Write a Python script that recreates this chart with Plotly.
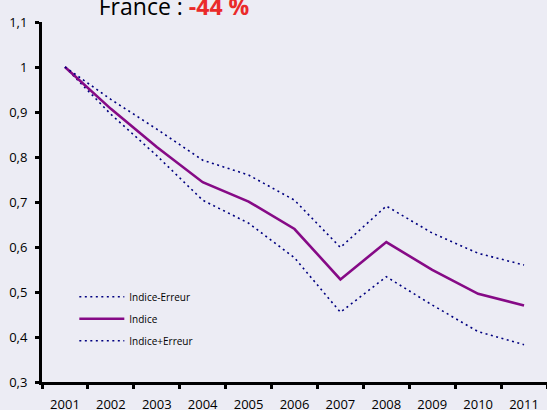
import plotly.graph_objects as go

years = ["2001", "2002", "2003", "2004", "2005", "2006", "2007", "2008", "2009", "2010", "2011"]
indice = [1.0, 0.907, 0.822, 0.744, 0.701, 0.640, 0.528, 0.611, 0.549, 0.496, 0.470]
indice_plus = [1.0, 0.928, 0.862, 0.793, 0.760, 0.704, 0.599, 0.691, 0.631, 0.586, 0.560]
indice_moins = [1.0, 0.895, 0.803, 0.704, 0.653, 0.576, 0.455, 0.534, 0.471, 0.412, 0.383]

navy = "#000080"
purple = "#860A86"
bg = "#ECECF4"
font_family = "Open Sans, Liberation Sans, sans-serif"

fig = go.Figure()
fig.add_trace(go.Scatter(x=years, y=indice_moins, mode="lines", name="Indice-Erreur",
                         legendgroup="a",
                         line=dict(color=navy, width=1.6, dash="2px,3.5px")))
fig.add_trace(go.Scatter(x=years, y=indice, mode="lines", name="Indice",
                         legendgroup="b",
                         line=dict(color=purple, width=2.6)))
fig.add_trace(go.Scatter(x=years, y=indice_plus, mode="lines", name="Indice+Erreur",
                         legendgroup="c",
                         line=dict(color=navy, width=1.6, dash="2px,3.5px")))

fig.update_layout(
    width=547, height=410,
    margin=dict(l=42, r=0, t=22, b=28, autoexpand=False),
    paper_bgcolor=bg, plot_bgcolor=bg,
    separators=", ",
    font=dict(family=font_family, color="#000000", size=13),
    title=dict(
        text="France : <b><span style='color:#EA2A2A'>-44 %</span></b>",
        x=174 / 547, xanchor="center", xref="container",
        y=1 - 7 / 410, yanchor="middle", yref="container",
        font=dict(size=23, family=font_family, color="#000000"),
    ),
    showlegend=True,
    legend=dict(
        x=0.064, y=0.277, xanchor="left", yanchor="top",
        bgcolor="rgba(0,0,0,0)",
        font=dict(size=10, family=font_family),
        tracegroupgap=3,
        itemwidth=45,
    ),
    xaxis=dict(
        type="category",
        range=[-0.5, 10.5],
        automargin=False,
        showgrid=False, zeroline=False,
        showline=True, linecolor="#000000", linewidth=3,
        ticks="outside", ticklen=4, tickwidth=2.5, tickcolor="#000000",
        tickson="boundaries",
        ticklabelstandoff=8,
        tickfont=dict(size=13),
    ),
    yaxis=dict(
        range=[0.3, 1.1],
        dtick=0.1, tick0=0.3,
        automargin=False,
        showgrid=False, zeroline=False,
        showline=True, linecolor="#000000", linewidth=3,
        ticks="outside", ticklen=4, tickwidth=2.5, tickcolor="#000000",
        ticklabelstandoff=5,
        tickfont=dict(size=13),
    ),
)

fig.write_html(
    "out.html",
    config={"displayModeBar": False},
    post_script="document.body.style.margin='0';document.body.style.overflow='hidden';",
)
